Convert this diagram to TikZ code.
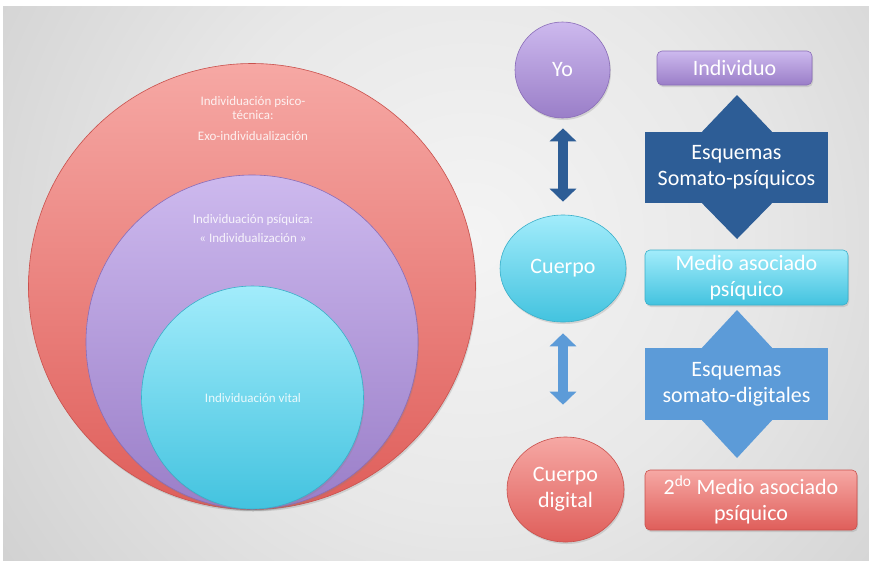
\documentclass[tikz,border=0pt]{standalone}
\usepackage{fontspec}
\setmainfont{Carlito}
\usetikzlibrary{shapes.geometric,arrows.meta,shadings,shadows,calc}
\definecolor{bgin}{HTML}{F4F4F4}
\definecolor{bgout}{HTML}{A4A4A4}
\definecolor{redtop}{HTML}{F6A8A4}
\definecolor{redbot}{HTML}{DF5E5A}
\definecolor{redline}{HTML}{C9504C}
\definecolor{purtop}{HTML}{CDB9EE}
\definecolor{purbot}{HTML}{9A7EC8}
\definecolor{purline}{HTML}{8A6DB8}
\definecolor{cyatop}{HTML}{A2ECFB}
\definecolor{cyabot}{HTML}{43C3DF}
\definecolor{cyaline}{HTML}{3AAFC9}
\definecolor{dblue}{HTML}{2D5D96}
\definecolor{lblue}{HTML}{5C9BD8}
\pgfdeclareradialshading{bgshade}{\pgfpoint{0bp}{0bp}}{color(0bp)=(bgin); color(12bp)=(bgin!85!bgout); color(50bp)=(bgout)}
\tikzset{
  redfill/.style={top color=redtop, bottom color=redbot, draw=redline, line width=0.6pt},
  purfill/.style={top color=purtop, bottom color=purbot, draw=purline, line width=0.6pt},
  cyafill/.style={top color=cyatop, bottom color=cyabot, draw=cyaline, line width=0.6pt},
  bigell/.style={ellipse, inner sep=0pt, drop shadow={shadow xshift=1pt, shadow yshift=-2pt, opacity=0.25}},
  circ/.style={ellipse, inner sep=0pt, text=white, font=\fontsize{22}{26}\selectfont, align=center, drop shadow={shadow xshift=1pt, shadow yshift=-2pt, opacity=0.25}},
  rbox/.style={rectangle, rounded corners=5pt, inner sep=0pt, text=white, font=\fontsize{22}{26}\selectfont, align=center, drop shadow={shadow xshift=1pt, shadow yshift=-2pt, opacity=0.25}},
  smalltxt/.style={text=white, text opacity=0.85, font=\fontsize{13}{14}\selectfont, align=center},
  callout/.style={rectangle, inner sep=0pt, text=white, font=\fontsize{22}{26}\selectfont, align=center},
}
\begin{document}
\begin{tikzpicture}[x=1pt,y=-1pt]
\useasboundingbox (0,0) rectangle (869,560);
\fill[white] (0,0) rectangle (869,560);
\begin{scope}
\clip (3,6) rectangle (869,560);
\fill[bgout] (3,6) rectangle (869,560);
\shade[shading=bgshade] (470,240) circle (580);
\end{scope}
% left nested circles
\node[bigell, redfill, minimum width=447, minimum height=446] (outer) at (252,286.5) {};
\node[bigell, purfill, minimum width=332, minimum height=334] (middle) at (252,342) {};
\node[bigell, cyafill, minimum width=222, minimum height=223] (inner) at (252.5,397.5) {};
\node[smalltxt] (tout) at (253,119) {Individuación psico-\\técnica:\\[7pt]Exo-individualización};
\node[smalltxt, font=\fontsize{13}{19}\selectfont] (tmid) at (253,229) {Individuación psíquica:\\« Individualización »};
\node[smalltxt] (tin) at (253,398) {Individuación vital};
% right column circles
\node[circ, purfill, minimum width=95, minimum height=96] (yo) at (562.5,70) {Yo};
\node[circ, cyafill, minimum width=126, minimum height=107] (cuerpo) at (563,268.5) {Cuerpo};
\node[circ, redfill, minimum width=117, minimum height=105] (cdig) at (565.5,489.5) {Cuerpo\\digital};
% right column boxes
\node[rbox, purfill, minimum width=155, minimum height=34] (indiv) at (734.5,68) {Individuo};
\node[rbox, cyafill, minimum width=203, minimum height=55] (medio) at (746.5,277.5) {Medio asociado\\psíquico};
\node[rbox, redfill, minimum width=212, minimum height=60] (medio2) at (751,500) {2\textsuperscript{do} Medio asociado\\psíquico};
% callouts
\node[callout, fill=dblue, minimum width=183, minimum height=71] (esq1) at (736.5,167.5) {Esquemas\\Somato-psíquicos};
\fill[dblue] ($(esq1.north)+(-35,0.5)$) -- (737,95) -- ($(esq1.north)+(36,0.5)$) -- cycle;
\fill[dblue] ($(esq1.south)+(-35,-0.5)$) -- (737,239) -- ($(esq1.south)+(36,-0.5)$) -- cycle;
\node[callout, fill=lblue, minimum width=183, minimum height=72] (esq2) at (736.5,384) {Esquemas\\somato-digitales};
\fill[lblue] ($(esq2.north)+(-35,0.5)$) -- (737,310) -- ($(esq2.north)+(36,0.5)$) -- cycle;
\fill[lblue] ($(esq2.south)+(-35,-0.5)$) -- (737,458) -- ($(esq2.south)+(36,-0.5)$) -- cycle;
% vertical double arrows
\draw[dblue, line width=10pt, {Triangle[width=26pt,length=13pt]}-{Triangle[width=26pt,length=13pt]}, shorten <=10pt, shorten >=13pt] (yo.south -| cuerpo.north) -- (cuerpo.north);
\draw[lblue, line width=10pt, {Triangle[width=26pt,length=13pt]}-{Triangle[width=26pt,length=13pt]}, shorten <=11pt, shorten >=32pt] (cuerpo.south) -- (cuerpo.south |- cdig.north);
\end{tikzpicture}
\end{document}
